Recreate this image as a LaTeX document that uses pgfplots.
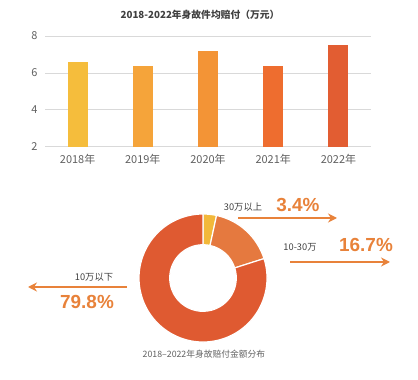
\documentclass[border=0pt]{standalone}
\usepackage{fontspec}
\setmainfont{Noto Sans CJK SC}
\newfontfamily\lib{Liberation Sans}
\usepackage{pgfplots}
\pgfplotsset{compat=1.18}
\usetikzlibrary{arrows.meta}
\definecolor{cA}{HTML}{F5BD3C}
\definecolor{cB}{HTML}{F5A43A}
\definecolor{cC}{HTML}{F39436}
\definecolor{cD}{HTML}{EE6D2F}
\definecolor{cE}{HTML}{E25D32}
\definecolor{pY}{HTML}{F2B83A}
\definecolor{pO}{HTML}{E5793F}
\definecolor{pR}{HTML}{DF5A31}
\definecolor{txtO}{HTML}{E8823A}
\definecolor{titlegray}{HTML}{404040}
\definecolor{tickgray}{HTML}{606060}
\newcommand\slice[3]{%
  \fill[#3, draw=white, line width=1.2bp]
    (axis cs:{cos(#1)},{sin(#1)}) arc[start angle={#1}, end angle={#2}, radius=64bp]
    -- (axis cs:{0.52*cos(#2)},{0.52*sin(#2)}) arc[start angle={#2}, end angle={#1}, radius=33.3bp] -- cycle;}
\begin{document}
\begin{tikzpicture}
\path[use as bounding box] (0,0) rectangle (418bp,380bp);
\node[font=\fontsize{9.8}{11}\selectfont\bfseries, text=titlegray] at (200bp,365bp) {2018-2022年身故件均赔付（万元）};
\begin{axis}[at={(45bp,233bp)}, anchor=south west, scale only axis,
  width=326bp, height=111bp, xmin=-0.5, xmax=4.5, ymin=2, ymax=8,
  ytick={2,4,6,8}, xtick={0,1,2,3,4},
  xticklabels={2018年,2019年,2020年,2021年,2022年},
  ymajorgrids, grid style={black!15, line width=1bp},
  axis line style={draw=none}, major tick length=0pt,
  tick label style={font=\fontsize{11}{12}\selectfont, text=tickgray},
  yticklabel style={xshift=-4bp},
  xticklabel style={yshift=-4bp},
  /pgf/number format/assume math mode=true,
  ybar, bar width=20bp, clip=false]
\addplot[fill=cA, draw=none, bar shift=0pt] coordinates {(0,6.6)};
\addplot[fill=cB, draw=none, bar shift=0pt] coordinates {(1,6.4)};
\addplot[fill=cC, draw=none, bar shift=0pt] coordinates {(2,7.2)};
\addplot[fill=cD, draw=none, bar shift=0pt] coordinates {(3,6.4)};
\addplot[fill=cE, draw=none, bar shift=0pt] coordinates {(4,7.5)};
\end{axis}
\begin{axis}[at={(203bp,102bp)}, anchor=center, scale only axis,
  width=128bp, height=128bp, xmin=-1, xmax=1, ymin=-1, ymax=1,
  hide axis, clip=false]
% shares: 3.4, 16.7, 79.8 (percent), clockwise from top
\slice{90}{90-3.4*3.6}{pY}
\slice{90-3.4*3.6}{90-20.1*3.6}{pO}
\slice{90-20.1*3.6}{-270}{pR}
\end{axis}
\node[font=\fontsize{9.3}{10}\selectfont, text=titlegray] at (243bp,173bp) {30万以上};
\node[font=\lib\bfseries\fontsize{19}{20}\selectfont, text=txtO] at (298bp,175bp) {3.4\%};
\draw[txtO, line width=1.5bp, -{Stealth[length=9bp,width=9bp]}] (238bp,162bp) -- (337bp,162bp);
\node[font=\fontsize{9.3}{10}\selectfont, text=titlegray] at (300bp,133bp) {10-30万};
\node[font=\lib\bfseries\fontsize{19}{20}\selectfont, text=txtO] at (366bp,135bp) {16.7\%};
\draw[txtO, line width=1.5bp, -{Stealth[length=9bp,width=9bp]}] (290bp,118bp) -- (390bp,118bp);
\node[font=\fontsize{9.3}{10}\selectfont, text=titlegray] at (94bp,103bp) {10万以下};
\draw[txtO, line width=1.5bp, -{Stealth[length=9bp,width=9bp]}] (127bp,93bp) -- (28bp,93bp);
\node[font=\lib\bfseries\fontsize{19}{20}\selectfont, text=txtO] at (87bp,78bp) {79.8\%};
\node[font=\fontsize{8.8}{9}\selectfont, text=tickgray] at (204bp,26bp) {2018–2022年身故赔付金额分布};
\end{tikzpicture}
\end{document}
